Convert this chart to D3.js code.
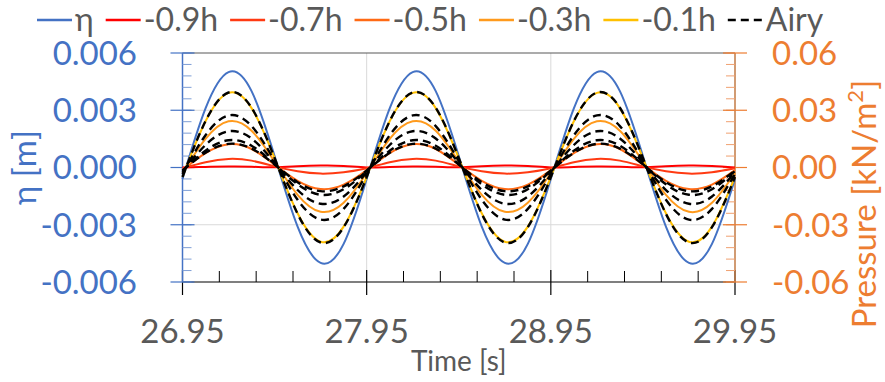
<!DOCTYPE html>
<html>
<head>
<meta charset="utf-8">
<script src="https://cdn.jsdelivr.net/npm/d3@7"></script>
<style>
  body { margin: 0; background: #fff; }
  svg { display: block; font-family: Lato, "Open Sans", sans-serif; }
</style>
</head>
<body>
<div id="chart"></div>
<script>
// sample times [s]
const times = [26.95, 27.075, 27.2, 27.325, 27.45, 27.575, 27.7, 27.825,
  27.95, 28.075, 28.2, 28.325, 28.45, 28.575, 28.7, 28.825,
  28.95, 29.075, 29.2, 29.325, 29.45, 29.575, 29.7, 29.825, 29.95];

// surface elevation [m] (left axis)
const eta = [-0.0006, 0.0031, 0.0050, 0.0040, 0.0006, -0.0031, -0.0050, -0.0040,
  -0.0006, 0.0031, 0.0050, 0.0040, 0.0006, -0.0031, -0.0050, -0.0040,
  -0.0006, 0.0031, 0.0050, 0.0040, 0.0006, -0.0031, -0.0050, -0.0040, -0.0006];

// measured pressure [kN/m2] (right axis)
const p09 = [0.0000, 0.0003, 0.0005, 0.0004, 0.0001, 0.0006, 0.0010, 0.0008,
  0.0000, 0.0003, 0.0005, 0.0004, 0.0001, 0.0006, 0.0010, 0.0008,
  0.0000, 0.0003, 0.0005, 0.0004, 0.0001, 0.0006, 0.0010, 0.0008, 0.0000];
const p07 = [-0.0004, 0.0028, 0.0045, 0.0036, 0.0006, -0.0020, -0.0032, -0.0025,
  -0.0004, 0.0028, 0.0045, 0.0036, 0.0006, -0.0020, -0.0032, -0.0025,
  -0.0004, 0.0028, 0.0045, 0.0036, 0.0006, -0.0020, -0.0032, -0.0025, -0.0004];
const p05 = [-0.0014, 0.0075, 0.0122, 0.0097, 0.0015, -0.0070, -0.0113, -0.0090,
  -0.0014, 0.0075, 0.0122, 0.0097, 0.0015, -0.0070, -0.0113, -0.0090,
  -0.0014, 0.0075, 0.0122, 0.0097, 0.0015, -0.0070, -0.0113, -0.0090, -0.0014];
const p03 = [-0.0029, 0.0150, 0.0242, 0.0193, 0.0031, -0.0143, -0.0232, -0.0185,
  -0.0029, 0.0150, 0.0242, 0.0193, 0.0031, -0.0143, -0.0232, -0.0185,
  -0.0029, 0.0150, 0.0242, 0.0193, 0.0031, -0.0143, -0.0232, -0.0185, -0.0029];
const p01 = [-0.0049, 0.0242, 0.0391, 0.0311, 0.0049, -0.0240, -0.0389, -0.0310,
  -0.0049, 0.0242, 0.0391, 0.0311, 0.0049, -0.0240, -0.0389, -0.0310,
  -0.0049, 0.0242, 0.0391, 0.0311, 0.0049, -0.0240, -0.0389, -0.0310, -0.0049];

// Airy theory pressure at the five depths
const airy01 = [-0.0050, 0.0243, 0.0393, 0.0313, 0.0050, -0.0243, -0.0393, -0.0313,
  -0.0050, 0.0243, 0.0393, 0.0313, 0.0050, -0.0243, -0.0393, -0.0313,
  -0.0050, 0.0243, 0.0393, 0.0313, 0.0050, -0.0243, -0.0393, -0.0313, -0.0050];
const airy03 = [-0.0034, 0.0169, 0.0273, 0.0217, 0.0034, -0.0169, -0.0273, -0.0217,
  -0.0034, 0.0169, 0.0273, 0.0217, 0.0034, -0.0169, -0.0273, -0.0217,
  -0.0034, 0.0169, 0.0273, 0.0217, 0.0034, -0.0169, -0.0273, -0.0217, -0.0034];
const airy05 = [-0.0024, 0.0118, 0.0190, 0.0152, 0.0024, -0.0118, -0.0190, -0.0152,
  -0.0024, 0.0118, 0.0190, 0.0152, 0.0024, -0.0118, -0.0190, -0.0152,
  -0.0024, 0.0118, 0.0190, 0.0152, 0.0024, -0.0118, -0.0190, -0.0152, -0.0024];
const airy07 = [-0.0018, 0.0088, 0.0143, 0.0114, 0.0018, -0.0088, -0.0143, -0.0114,
  -0.0018, 0.0088, 0.0143, 0.0114, 0.0018, -0.0088, -0.0143, -0.0114,
  -0.0018, 0.0088, 0.0143, 0.0114, 0.0018, -0.0088, -0.0143, -0.0114, -0.0018];
const airy09 = [-0.0016, 0.0077, 0.0124, 0.0099, 0.0016, -0.0077, -0.0124, -0.0099,
  -0.0016, 0.0077, 0.0124, 0.0099, 0.0016, -0.0077, -0.0124, -0.0099,
  -0.0016, 0.0077, 0.0124, 0.0099, 0.0016, -0.0077, -0.0124, -0.0099, -0.0016];

// tick labels
const xTicks = [26.95, 27.95, 28.95, 29.95];
const leftTicks = [-0.006, -0.003, 0, 0.003, 0.006];
const rightTicks = [-0.06, -0.03, 0, 0.03, 0.06];

const series = [
  {name: "η", values: eta, axis: "left", color: "#4472C4"},
  {name: "-0.9h", values: p09, axis: "right", color: "#FF0000"},
  {name: "-0.7h", values: p07, axis: "right", color: "#FF3A12"},
  {name: "-0.5h", values: p05, axis: "right", color: "#FF6A14"},
  {name: "-0.3h", values: p03, axis: "right", color: "#FF9A1C"},
  {name: "-0.1h", values: p01, axis: "right", color: "#FFC000"},
  {name: "Airy", values: airy01, axis: "right", color: "#000", dash: true},
  {name: null, values: airy03, axis: "right", color: "#000", dash: true},
  {name: null, values: airy05, axis: "right", color: "#000", dash: true},
  {name: null, values: airy07, axis: "right", color: "#000", dash: true},
  {name: null, values: airy09, axis: "right", color: "#000", dash: true}
];

const W = 885, H = 382;
const plot = {left: 182.5, right: 735, top: 53, bottom: 282};

const svg = d3.select("#chart").append("svg")
  .attr("width", W).attr("height", H);

const x = d3.scaleLinear().domain([26.95, 29.95]).range([plot.left, plot.right]);
const yL = d3.scaleLinear().domain([-0.006, 0.006]).range([plot.bottom, plot.top]);
const yR = d3.scaleLinear().domain([-0.06, 0.06]).range([plot.bottom, plot.top]);

// gridlines
svg.append("g").selectAll("line")
  .data([-0.003, 0, 0.003])
  .join("line")
    .attr("x1", plot.left).attr("x2", plot.right)
    .attr("y1", d => yL(d)).attr("y2", d => yL(d))
    .style("stroke", "#d9d9d9").style("stroke-width", 1);
svg.append("g").selectAll("line")
  .data(xTicks.slice(1, 3))
  .join("line")
    .attr("x1", d => x(d)).attr("x2", d => x(d))
    .attr("y1", plot.top).attr("y2", plot.bottom)
    .style("stroke", "#d9d9d9").style("stroke-width", 1);
svg.append("line")
  .attr("x1", plot.left).attr("x2", plot.right)
  .attr("y1", yL(0.006)).attr("y2", yL(0.006))
  .style("stroke", "#595959").style("stroke-width", 1.2);

// x axis
const xg = svg.append("g").attr("transform", "translate(0," + plot.bottom + ")");
xg.append("line").attr("x1", plot.left).attr("x2", plot.right)
  .style("stroke", "#000").style("stroke-width", 1.2);
xg.selectAll(".minor")
  .data(d3.range(0, 16).map(i => 26.95 + i * 0.2).filter((d, i) => i % 5 !== 0))
  .join("line")
    .attr("x1", d => x(d)).attr("x2", d => x(d))
    .attr("y1", -11).attr("y2", 0)
    .style("stroke", "#000").style("stroke-width", 1);
xg.selectAll(".major")
  .data(xTicks)
  .join("line")
    .attr("x1", d => x(d)).attr("x2", d => x(d))
    .attr("y1", -12).attr("y2", 13)
    .style("stroke", "#000").style("stroke-width", 1.2);
xg.selectAll("text")
  .data(xTicks)
  .join("text")
    .attr("x", d => x(d)).attr("y", 61)
    .attr("text-anchor", "middle")
    .style("font-size", "33px").style("fill", "#595959")
    .text(d => d.toFixed(2));

// left axis
const lg = svg.append("g");
lg.append("line").attr("x1", plot.left).attr("x2", plot.left)
  .attr("y1", plot.top).attr("y2", plot.bottom)
  .style("stroke", "#4472C4").style("stroke-width", 1.5);
lg.selectAll(".minor")
  .data(d3.range(-10, 11).map(i => i * 0.0006))
  .join("line")
    .attr("x1", plot.left).attr("x2", plot.left + 9)
    .attr("y1", d => yL(d)).attr("y2", d => yL(d))
    .style("stroke", "#7e9ed6").style("stroke-width", 1);
lg.selectAll(".major")
  .data(leftTicks)
  .join("line")
    .attr("x1", plot.left - 12).attr("x2", plot.left + 12)
    .attr("y1", d => yL(d)).attr("y2", d => yL(d))
    .style("stroke", "#4472C4").style("stroke-width", 1.2);
lg.selectAll("text")
  .data(leftTicks)
  .join("text")
    .attr("x", 137).attr("y", d => yL(d)).attr("dy", "0.36em")
    .attr("text-anchor", "end")
    .style("font-size", "33px").style("fill", "#4472C4")
    .text(d => d3.format(".3f")(d).replace("−", "-"));

// right axis
const rg = svg.append("g");
rg.append("line").attr("x1", plot.right).attr("x2", plot.right)
  .attr("y1", plot.top).attr("y2", plot.bottom)
  .style("stroke", "#C27A44").style("stroke-width", 1.5);
rg.selectAll(".minor")
  .data(d3.range(-10, 11).map(i => i * 0.006))
  .join("line")
    .attr("x1", plot.right - 9).attr("x2", plot.right)
    .attr("y1", d => yR(d)).attr("y2", d => yR(d))
    .style("stroke", "#F0A070").style("stroke-width", 1);
rg.selectAll(".major")
  .data(rightTicks)
  .join("line")
    .attr("x1", plot.right - 12).attr("x2", plot.right + 12)
    .attr("y1", d => yR(d)).attr("y2", d => yR(d))
    .style("stroke", "#ED7D31").style("stroke-width", 1.2);
rg.selectAll("text")
  .data(rightTicks)
  .join("text")
    .attr("x", 772).attr("y", d => yR(d)).attr("dy", "0.36em")
    .style("font-size", "33px").style("fill", "#ED7D31")
    .text(d => d3.format(".2f")(d).replace("−", "-"));

// axis titles
svg.append("text")
  .attr("transform", "translate(36," + yL(0) + ") rotate(-90)")
  .attr("text-anchor", "middle")
  .style("font-size", "33px").style("fill", "#4472C4")
  .text("η [m]");
const pt = svg.append("text")
  .attr("transform", "translate(876,204) rotate(-90)")
  .attr("text-anchor", "middle")
  .style("font-size", "33px").style("fill", "#ED7D31");
pt.append("tspan").text("Pressure [kN/m");
pt.append("tspan").attr("dy", -13).style("font-size", "22px").text("2");
pt.append("tspan").attr("dy", 13).text("]");
svg.append("text")
  .attr("x", (plot.left + plot.right) / 2).attr("y", 371)
  .attr("text-anchor", "middle")
  .style("font-size", "28px").style("fill", "#595959")
  .text("Time [s]");

// lines
const lineGen = (yScale) => d3.line()
  .x((d, i) => x(times[i]))
  .y(d => yScale(d))
  .curve(d3.curveNatural);

svg.append("g").selectAll("path")
  .data(series)
  .join("path")
    .attr("d", s => lineGen(s.axis === "left" ? yL : yR)(s.values))
    .style("fill", "none")
    .style("stroke", s => s.color)
    .style("stroke-width", s => s.dash ? 2.4 : 2)
    .style("stroke-dasharray", s => s.dash ? "8,5" : null);

// legend
const leg = svg.append("g");
let lx = 37;
series.filter(s => s.name).forEach(s => {
  leg.append("line")
    .attr("x1", lx).attr("x2", lx + 35)
    .attr("y1", 20).attr("y2", 20)
    .style("stroke", s.color)
    .style("stroke-width", s.dash ? 2.4 : 2.5)
    .style("stroke-dasharray", s.dash ? "8,5" : null);
  const t = leg.append("text")
    .attr("x", lx + 38).attr("y", 31)
    .style("font-size", "32px").style("fill", "#595959")
    .text(s.name);
  lx += 38 + t.node().getComputedTextLength() + 12;
});
</script>
</body>
</html>
